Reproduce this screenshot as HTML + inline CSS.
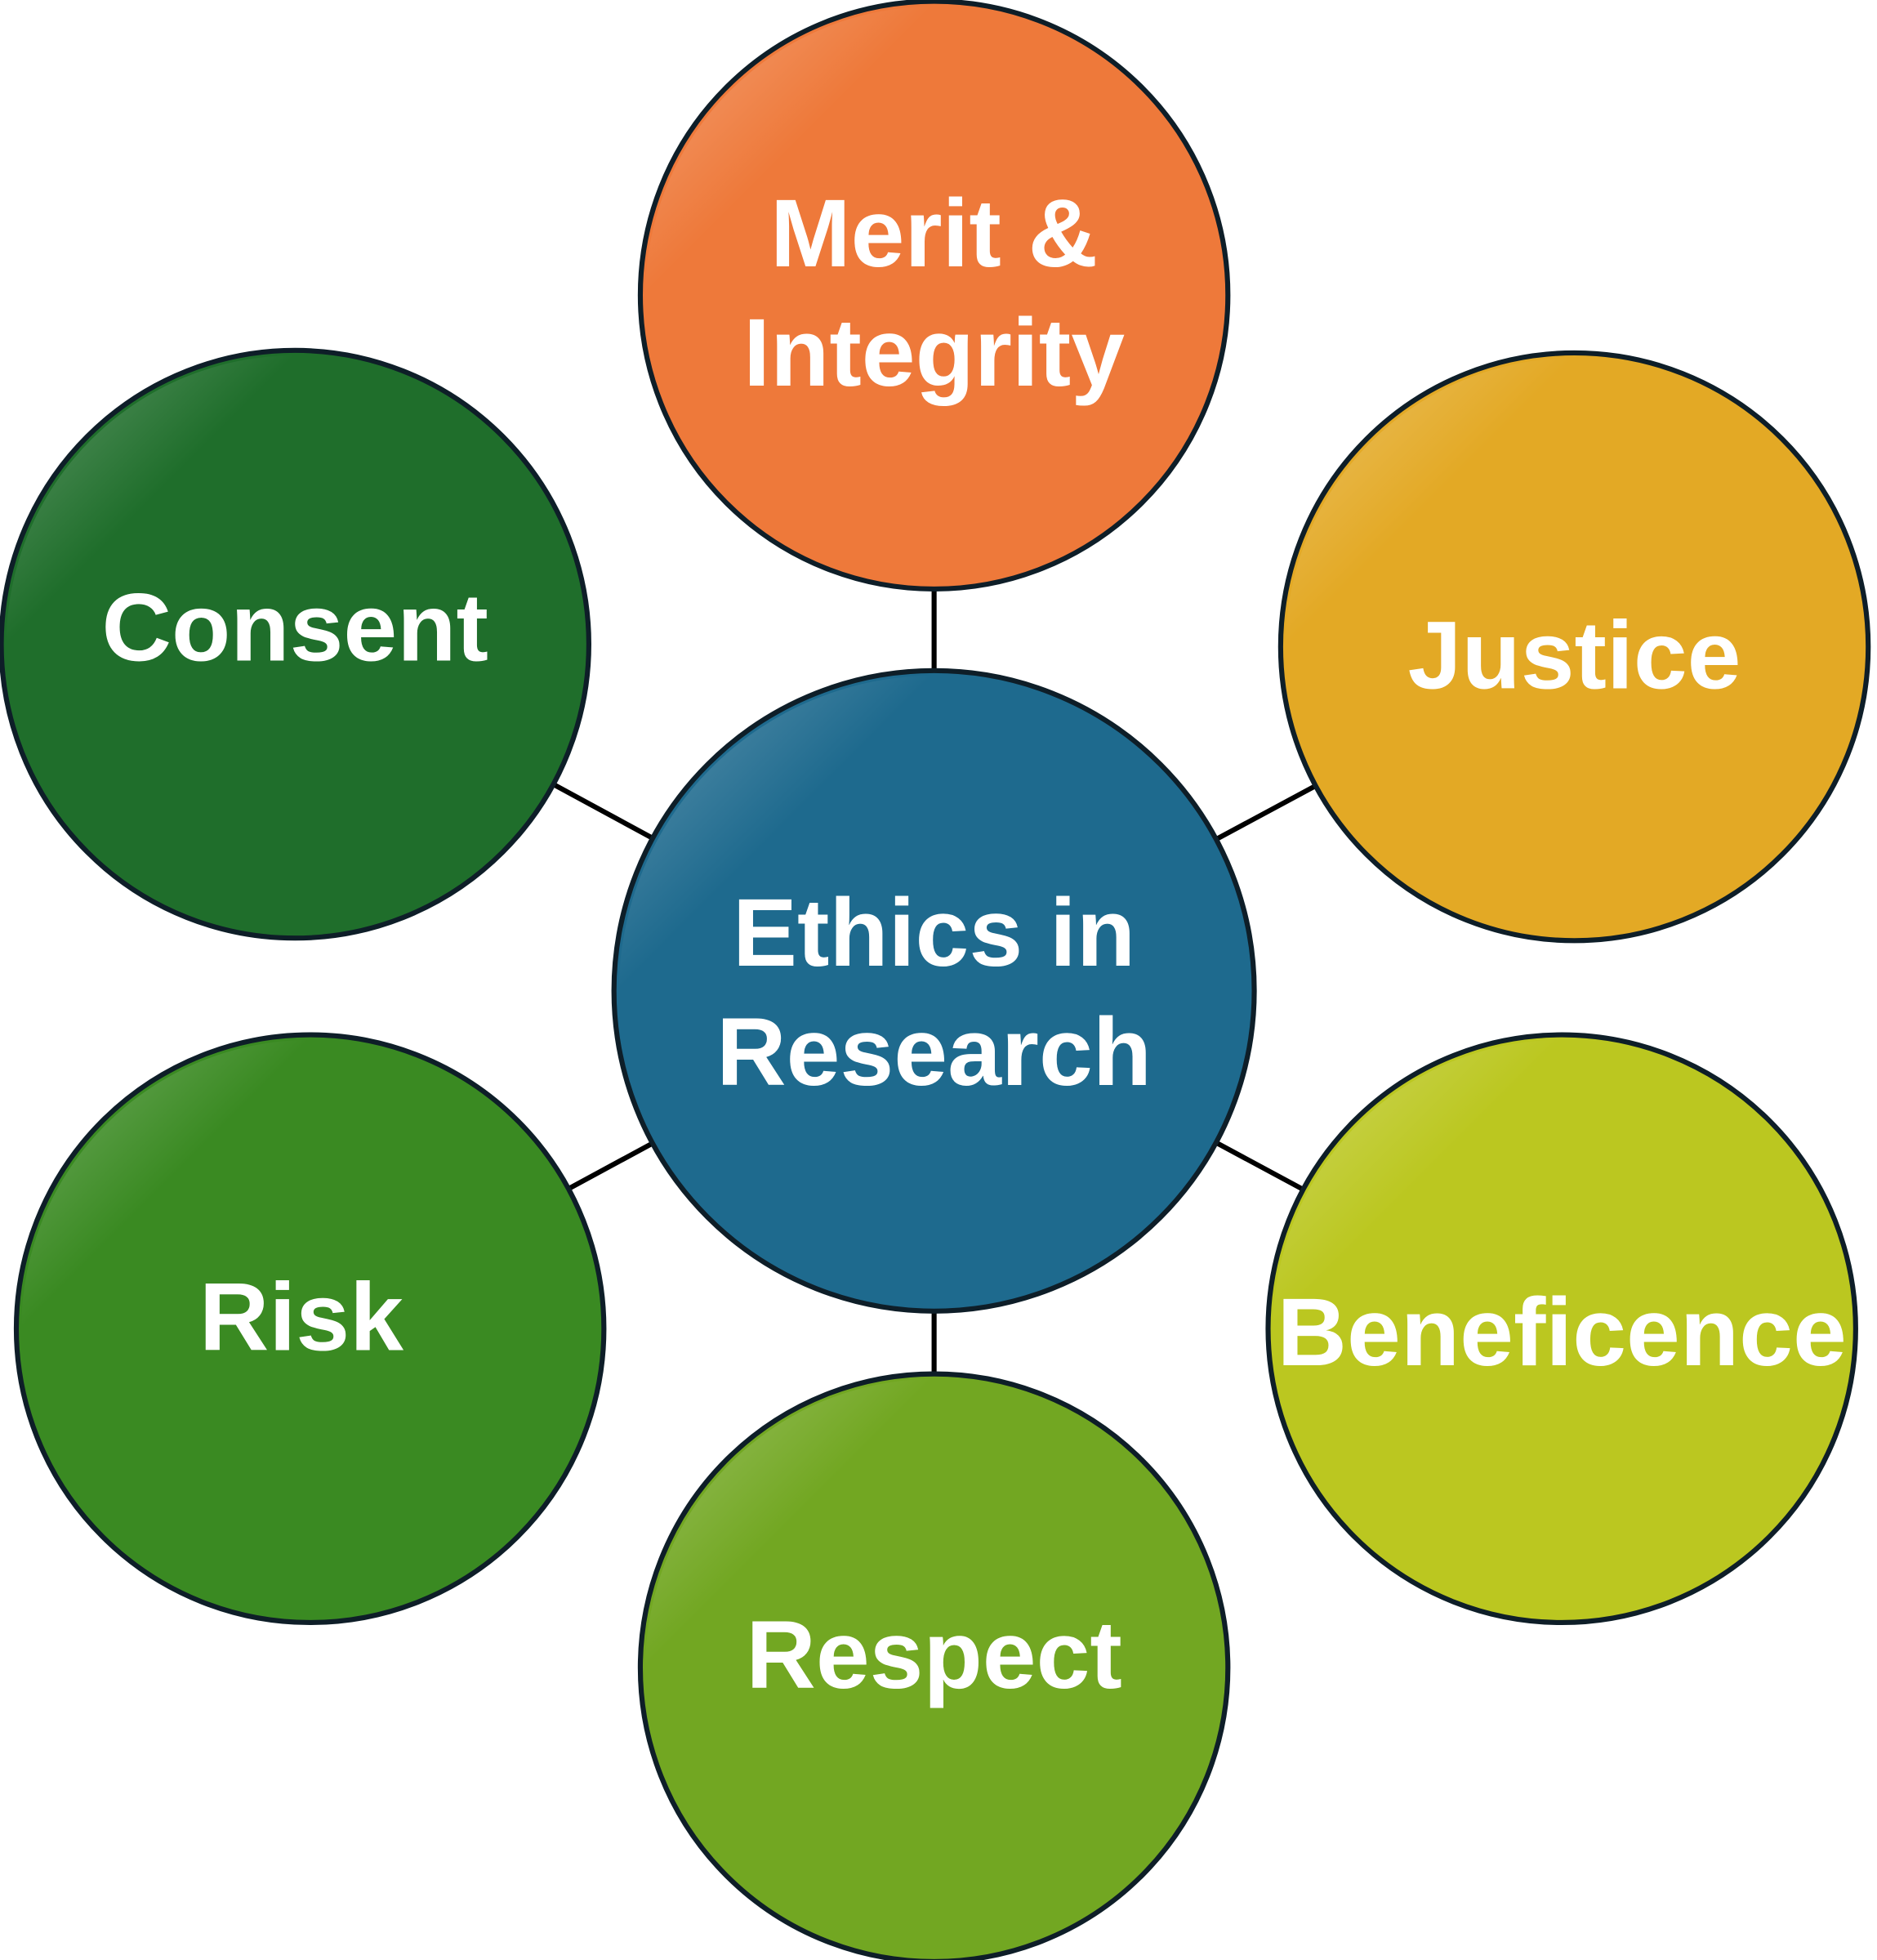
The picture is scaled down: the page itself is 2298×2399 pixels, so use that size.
<!DOCTYPE html>
<html><head><style>html,body{margin:0;padding:0;background:#fff}svg{display:block}</style></head>
<body>
<svg xmlns="http://www.w3.org/2000/svg" width="2298" height="2399" viewBox="0 0 1495 1560.7">
<defs>
<linearGradient id="hl" x1="0" y1="0" x2="1" y2="1">
<stop offset="0" stop-color="#fff" stop-opacity="0.3"/><stop offset="0.25" stop-color="#fff" stop-opacity="0"/>
</linearGradient>
</defs>
<g transform="translate(-3,-2)">
<g stroke="#000" stroke-width="4">
<line x1="747" y1="791" x2="747" y2="237"/>
<line x1="747" y1="791" x2="1257" y2="517"/>
<line x1="747" y1="791" x2="238" y2="515"/>
<line x1="747" y1="791" x2="250" y2="1060"/>
<line x1="747" y1="791" x2="1247" y2="1060"/>
<line x1="747" y1="791" x2="747" y2="1330"/>
</g>
<g stroke="#0e1e28" stroke-width="4">
<circle cx="747" cy="237" r="234" fill="#EE793A"/>
<circle cx="1257" cy="517" r="234" fill="#E3A925"/>
<circle cx="238" cy="515" r="234" fill="#1F6E2B"/>
<circle cx="250" cy="1060" r="234" fill="#3A8A22"/>
<circle cx="1247" cy="1060" r="234" fill="#BBC720"/>
<circle cx="747" cy="1330" r="234" fill="#72A722"/>
<circle cx="747" cy="791" r="255" fill="#1E6A8E"/>
</g>
<g fill="url(#hl)">
<circle cx="747" cy="237" r="230"/><circle cx="1257" cy="517" r="230"/><circle cx="238" cy="515" r="230"/>
<circle cx="250" cy="1060" r="230"/><circle cx="1247" cy="1060" r="230"/><circle cx="747" cy="1330" r="230"/>
<circle cx="747" cy="791" r="251"/>
</g>
<g fill="#fff" font-family="Liberation Sans, sans-serif" font-weight="bold" font-size="77" text-anchor="middle">
<text x="747" y="214">Merit &amp;</text>
<text x="747" y="309">Integrity</text>
<text x="1257" y="550">Justice</text>
<text x="238" y="528">Consent</text>
<text x="747" y="771">Ethics in</text>
<text x="747" y="866">Research</text>
<text x="243" y="1077">Risk</text>
<text x="1247" y="1089">Beneficence</text>
<text x="747" y="1346">Respect</text>
</g>
</g>
</svg>
</body></html>
